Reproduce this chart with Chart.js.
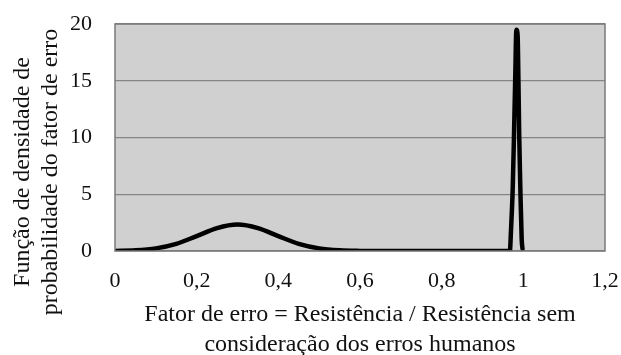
<!DOCTYPE html>
<html lang="pt">
<head>
<meta charset="UTF-8" />
<title>Fator de erro</title>
<script src="https://cdn.jsdelivr.net/npm/chart.js@4.4.1/dist/chart.umd.min.js"></script>
<style>
  body { margin: 0; background: #fff; }
  #wrap { width: 621px; height: 355px; }
</style>
</head>
<body>
<div id="wrap"><canvas id="chart" width="621" height="355"></canvas></div>
<script>
// density curve: broad bump around 0.3, sharp spike just below 1
const fatorErro = [0, 0.05, 0.1, 0.15, 0.2, 0.25, 0.3, 0.35, 0.4, 0.45, 0.5, 0.55, 0.6, 0.65, 0.7, 0.8, 0.9, 0.95, 0.967,
                   0.970, 0.974, 0.977, 0.980, 0.983, 0.986, 0.988, 0.990, 0.993, 0.996, 0.998];
const densidade = [0.01, 0.06, 0.23, 0.63, 1.31, 2.02, 2.33, 2.02, 1.31, 0.63, 0.23, 0.06, 0.01, 0, 0, 0, 0, 0, 0,
                   2, 5.5, 10, 15, 19.5, 19, 15, 10, 5, 1, 0.2];
const xTicks = [0, 0.2, 0.4, 0.6, 0.8, 1, 1.2];
const yTicks = [0, 5, 10, 15, 20];
const yTitle = ['Função de densidade de', 'probabilidade do fator de erro'];
const xTitle = ['Fator de erro = Resistência / Resistência sem', 'consideração dos erros humanos'];

const serif = 'Liberation Serif, Times New Roman, serif';

// grey plot background, frame and the rotated y title
const plotBg = {
  id: 'plotBg',
  beforeDraw(chart) {
    const { ctx, chartArea: a } = chart;
    ctx.save();
    ctx.fillStyle = '#d0d0d0';
    ctx.fillRect(a.left, a.top, a.right - a.left, a.bottom - a.top);
    ctx.restore();
  },
  afterDatasetsDraw(chart) {
    const { ctx, chartArea: a } = chart;
    ctx.save();
    ctx.strokeStyle = '#7a7a7a';
    ctx.lineWidth = 1.5;
    ctx.strokeRect(a.left, a.top, a.right - a.left, a.bottom - a.top);
    ctx.restore();
  },
  afterDraw(chart) {
    const { ctx } = chart;
    ctx.save();
    ctx.translate(0, 172);
    ctx.rotate(-Math.PI / 2);
    ctx.font = '24px ' + serif;
    ctx.fillStyle = '#111';
    ctx.textAlign = 'center';
    ctx.textBaseline = 'middle';
    ctx.fillText(yTitle[0], 0, 23);
    ctx.fillText(yTitle[1], 0, 51);
    ctx.restore();
  }
};

const points = fatorErro.map((x, i) => ({ x: x, y: densidade[i] }));

new Chart(document.getElementById('chart'), {
  type: 'line',
  data: {
    datasets: [{
      data: points,
      borderColor: '#000',
      borderWidth: 4.5,
      pointRadius: 0,
      cubicInterpolationMode: 'monotone',
      borderJoinStyle: 'round',
      borderCapStyle: 'round',
      fill: false
    }]
  },
  options: {
    responsive: false,
    animation: false,
    layout: { padding: { top: 24, right: 16, left: 0, bottom: 0 } },
    plugins: { legend: { display: false }, tooltip: { enabled: false } },
    scales: {
      x: {
        type: 'linear',
        min: 0, max: 1.2,
        afterBuildTicks: s => { s.ticks = xTicks.map(v => ({ value: v })); },
        afterFit: s => { s.height = 104; s.paddingLeft = 0; s.paddingRight = 0; },
        grid: { display: false, drawTicks: false },
        border: { display: false },
        ticks: {
          color: '#111',
          padding: 17,
          maxRotation: 0,
          font: { family: serif, size: 22 },
          callback: v => String(Number(v.toFixed(1))).replace('.', ',')
        },
        title: {
          display: true,
          text: xTitle,
          color: '#111',
          font: { family: serif, size: 24, lineHeight: 1.25 },
          padding: { top: 0, bottom: -5 }
        }
      },
      y: {
        min: 0, max: 20,
        afterBuildTicks: s => { s.ticks = yTicks.map(v => ({ value: v })); },
        afterFit: s => { s.width = 115; s.paddingTop = 0; s.paddingBottom = 0; },
        grid: { color: '#858585', lineWidth: 1.2, drawTicks: false },
        border: { display: false },
        ticks: {
          color: '#111',
          padding: 23,
          font: { family: serif, size: 22 }
        }
      }
    }
  },
  plugins: [plotBg]
});
</script>
</body>
</html>
